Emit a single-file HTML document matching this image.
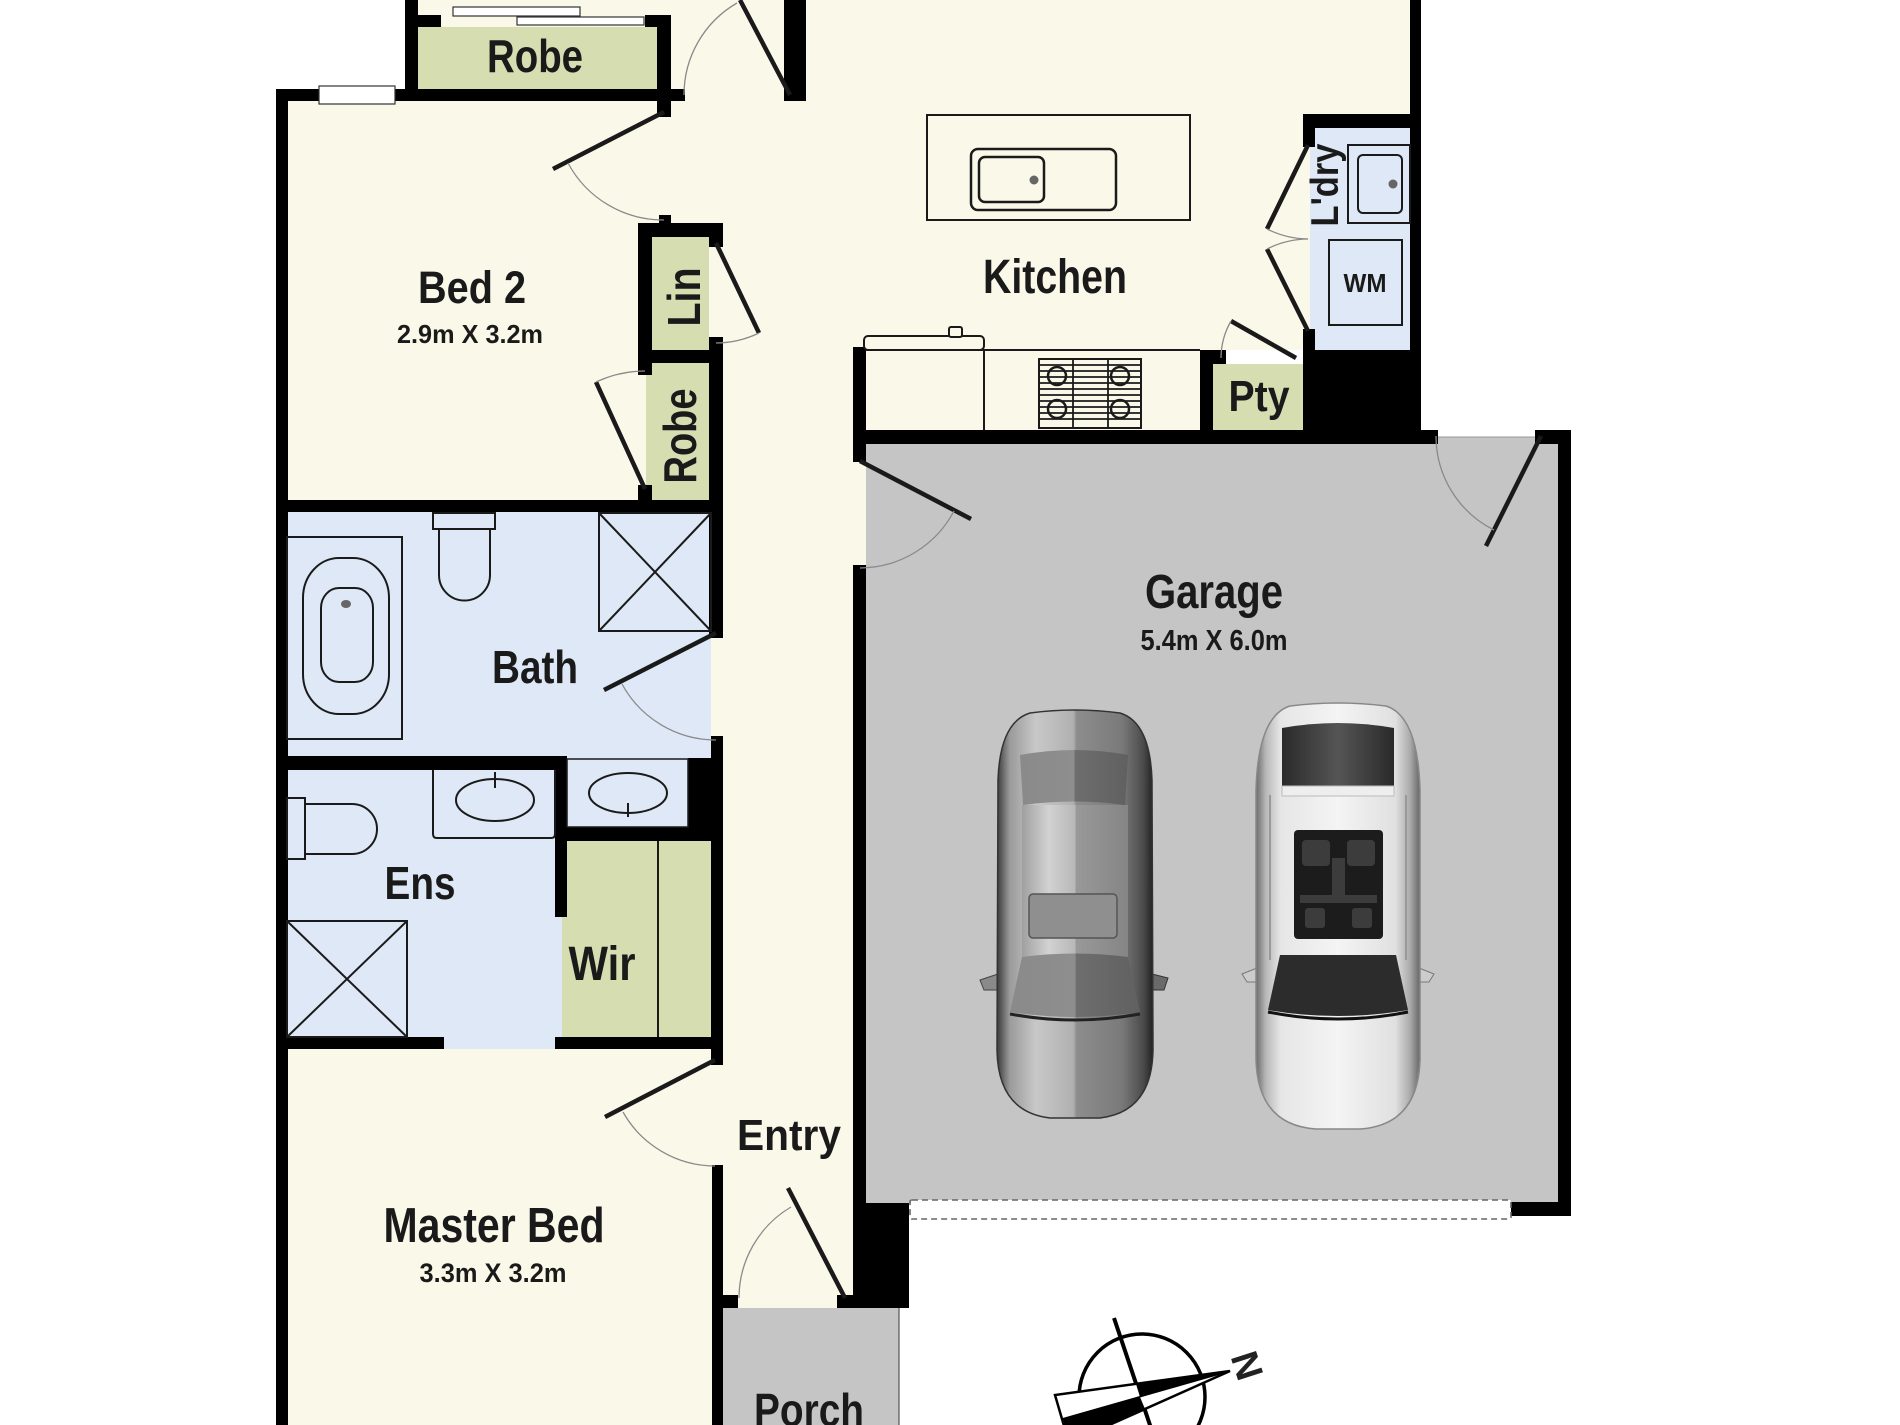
<!DOCTYPE html>
<html><head><meta charset="utf-8"><style>html,body{margin:0;padding:0;background:#fff}svg{display:block}
text{font-family:"Liberation Sans",Arial,sans-serif;font-weight:bold;fill:#1a1a1a}</style></head>
<body>
<svg width="1900" height="1425" viewBox="0 0 1900 1425" xmlns="http://www.w3.org/2000/svg">
<defs>
<linearGradient id="c1" x1="0" x2="1" y1="0" y2="0">
<stop offset="0" stop-color="#3a3a3a"/><stop offset="0.08" stop-color="#9a9a9a"/><stop offset="0.25" stop-color="#c8c8c8"/><stop offset="0.49" stop-color="#b0b0b0"/><stop offset="0.51" stop-color="#8d8d8d"/><stop offset="0.8" stop-color="#7a7a7a"/><stop offset="0.94" stop-color="#4a4a4a"/><stop offset="1" stop-color="#222"/></linearGradient>
<linearGradient id="c1r" x1="0" x2="1" y1="0" y2="0">
<stop offset="0" stop-color="#a0a0a0"/><stop offset="0.25" stop-color="#d2d2d2"/><stop offset="0.5" stop-color="#b8b8b8"/><stop offset="0.51" stop-color="#999"/><stop offset="1" stop-color="#858585"/></linearGradient>
<linearGradient id="c1g" x1="0" x2="1" y1="0" y2="0">
<stop offset="0" stop-color="#8a8a8a"/><stop offset="0.5" stop-color="#8e8e8e"/><stop offset="0.51" stop-color="#6e6e6e"/><stop offset="1" stop-color="#606060"/></linearGradient>
<linearGradient id="c2" x1="0" x2="1" y1="0" y2="0">
<stop offset="0" stop-color="#6a6a6a"/><stop offset="0.06" stop-color="#b8b8b8"/><stop offset="0.15" stop-color="#e6e6e6"/><stop offset="0.5" stop-color="#f4f4f4"/><stop offset="0.85" stop-color="#e0e0e0"/><stop offset="0.94" stop-color="#aaa"/><stop offset="1" stop-color="#666"/></linearGradient>
<linearGradient id="c2g" x1="0" x2="1" y1="0" y2="0">
<stop offset="0" stop-color="#2a2a2a"/><stop offset="0.5" stop-color="#555"/><stop offset="1" stop-color="#2a2a2a"/></linearGradient>
</defs>
<rect width="1900" height="1425" fill="#fff"/>

<!-- cream floors -->
<rect x="405" y="0" width="1016" height="350" fill="#FAF9E9"/>
<rect x="276" y="89" width="590" height="1336" fill="#FAF9E9"/>
<rect x="865" y="350" width="340" height="80" fill="#FAF9E9"/>

<!-- blue -->
<rect x="287" y="512" width="424" height="246" fill="#DEE8F6"/>
<rect x="287" y="758" width="401" height="291" fill="#DEE8F6"/>
<rect x="1310" y="128" width="100" height="222" fill="#DEE8F6"/>

<!-- green -->
<rect x="418" y="27" width="240" height="62" fill="#D5DDB1"/>
<rect x="652" y="237" width="57" height="113" fill="#D5DDB1"/>
<rect x="646" y="363" width="63" height="137" fill="#D5DDB1"/>
<rect x="1213" y="364" width="90" height="66" fill="#D5DDB1"/>
<rect x="562" y="840" width="149" height="197" fill="#D5DDB1"/>

<!-- grey -->
<rect x="866" y="444" width="692" height="759" fill="#C6C5C6"/>
<rect x="1438" y="437" width="97" height="7" fill="#C6C5C6"/>
<line x1="1438" y1="437" x2="1535" y2="437" stroke="#999" stroke-width="1"/>
<rect x="723" y="1308" width="176" height="117" fill="#C6C5C6"/>
<line x1="899" y1="1308" x2="899" y2="1425" stroke="#555" stroke-width="1.2"/>

<!-- walls -->
<g fill="#000">
<rect x="405" y="0" width="13" height="101"/>
<rect x="405" y="15" width="36" height="12"/>
<rect x="645" y="15" width="26" height="12"/>
<rect x="657" y="15" width="14" height="102"/>
<rect x="276" y="89" width="409" height="12"/>
<rect x="276" y="89" width="12" height="1336"/>
<rect x="784" y="0" width="22" height="101"/>
<rect x="659" y="215" width="12" height="10"/>
<rect x="638" y="223" width="85" height="14"/>
<rect x="638" y="223" width="14" height="152"/>
<rect x="709" y="223" width="14" height="24"/>
<rect x="638" y="350" width="85" height="13"/>
<rect x="709" y="337" width="14" height="301"/>
<rect x="638" y="485" width="14" height="27"/>
<rect x="276" y="500" width="447" height="12"/>
<rect x="711" y="736" width="12" height="329"/>
<rect x="688" y="758" width="35" height="82"/>
<rect x="287" y="756" width="280" height="14"/>
<rect x="555" y="770" width="12" height="147"/>
<rect x="555" y="827" width="168" height="14"/>
<rect x="276" y="1037" width="168" height="12"/>
<rect x="555" y="1037" width="168" height="12"/>
<rect x="712" y="1165" width="11" height="260"/>
<rect x="853" y="347" width="13" height="115"/>
<rect x="853" y="565" width="13" height="640"/>
<rect x="853" y="1203" width="56" height="105"/>
<rect x="723" y="1295" width="15" height="13"/>
<rect x="837" y="1295" width="16" height="13"/>
<rect x="1410" y="0" width="11" height="444"/>
<rect x="1303" y="114" width="118" height="14"/>
<rect x="1303" y="114" width="12" height="33"/>
<rect x="1303" y="329" width="12" height="21"/>
<rect x="1303" y="350" width="118" height="94"/>
<rect x="1200" y="350" width="13" height="80"/>
<rect x="1200" y="350" width="26" height="14"/>
<rect x="853" y="430" width="585" height="14"/>
<rect x="1535" y="430" width="36" height="14"/>
<rect x="1558" y="430" width="13" height="786"/>
<rect x="1511" y="1202" width="60" height="14"/>
</g>

<!-- window & sliding doors -->
<rect x="319" y="86" width="76" height="18" fill="#fff" stroke="#333" stroke-width="1.2"/>
<rect x="453" y="7" width="127" height="9" fill="#fff" stroke="#333" stroke-width="1.2"/>
<rect x="517" y="17" width="127" height="8" fill="#fff" stroke="#333" stroke-width="1.2"/>

<!-- garage door dashed -->
<rect x="910" y="1200" width="601" height="19" rx="2" fill="#fff" stroke="#666" stroke-width="1.6" stroke-dasharray="6 4"/>

<!-- doors -->
<g stroke="#1a1a1a" stroke-width="4.5" fill="none">
<line x1="790" y1="95" x2="740" y2="0"/>
<line x1="664" y1="112" x2="553" y2="169"/>
<line x1="716" y1="243" x2="759" y2="333"/>
<line x1="645" y1="489" x2="596" y2="382"/>
<line x1="716" y1="633" x2="604" y2="690"/>
<line x1="715" y1="1060" x2="605" y2="1117"/>
<line x1="845" y1="1298" x2="788" y2="1188"/>
<line x1="860" y1="461" x2="971" y2="519"/>
<line x1="1541" y1="436" x2="1486" y2="546"/>
<line x1="1308" y1="145" x2="1267" y2="229"/>
<line x1="1308" y1="331" x2="1267" y2="249"/>
<line x1="1296" y1="358" x2="1231" y2="321"/>
</g>
<g stroke="#8a8a8a" stroke-width="1.3" fill="none">
<path d="M684 95 A106 106 0 0 1 737 3"/>
<path d="M568 163 A108 108 0 0 0 664 220"/>
<path d="M759 333 A100 100 0 0 1 716 343"/>
<path d="M596 382 A118 118 0 0 1 645 371"/>
<path d="M622 684 A107 107 0 0 0 716 740"/>
<path d="M623 1112 A106 106 0 0 0 715 1166"/>
<path d="M791 1207 A106 106 0 0 0 739 1298"/>
<path d="M954 511 A107 107 0 0 1 860 568"/>
<path d="M1494 530 A105 105 0 0 1 1436 436"/>
<path d="M1267 229 A94 94 0 0 0 1308 239"/>
<path d="M1267 249 A92 92 0 0 1 1308 239"/>
<path d="M1231 321 A75 75 0 0 0 1221 358"/>
</g>

<!-- kitchen fixtures -->
<g stroke="#1a1a1a" fill="none" stroke-width="2">
<rect x="927" y="115" width="263" height="105"/>
<rect x="971" y="149" width="145" height="61" rx="7" stroke-width="2.5"/>
<rect x="979" y="157" width="65" height="45" rx="6" stroke-width="2.5"/>
<line x1="865" y1="350" x2="1200" y2="350"/>
<rect x="864" y="336" width="120" height="14" rx="4" fill="#FAF9E9"/>
<rect x="949" y="327" width="13" height="10" rx="2" fill="#FAF9E9"/>
<line x1="984" y1="350" x2="984" y2="430"/>
<rect x="1039" y="359" width="102" height="69"/>
</g>
<circle cx="1034" cy="180" r="4.5" fill="#666"/>
<g stroke="#1a1a1a" stroke-width="1.8">
<line x1="1039" y1="365" x2="1141" y2="365"/><line x1="1039" y1="371" x2="1141" y2="371"/><line x1="1039" y1="377" x2="1141" y2="377"/><line x1="1039" y1="383" x2="1141" y2="383"/><line x1="1039" y1="389" x2="1141" y2="389"/><line x1="1039" y1="395" x2="1141" y2="395"/><line x1="1039" y1="401" x2="1141" y2="401"/><line x1="1039" y1="407" x2="1141" y2="407"/><line x1="1039" y1="413" x2="1141" y2="413"/><line x1="1039" y1="419" x2="1141" y2="419"/>
<line x1="1073" y1="359" x2="1073" y2="428"/><line x1="1108" y1="359" x2="1108" y2="428"/>
</g>
<g stroke="#1a1a1a" stroke-width="2.5" fill="none">
<circle cx="1057" cy="376" r="9"/><circle cx="1120" cy="376" r="9"/><circle cx="1057" cy="409" r="9"/><circle cx="1120" cy="409" r="9"/>
</g>

<!-- laundry -->
<g stroke="#1a1a1a" fill="none" stroke-width="2">
<rect x="1348" y="145" width="62" height="78"/>
<rect x="1358" y="155" width="44" height="58" rx="5"/>
<rect x="1329" y="240" width="73" height="85"/>
</g>
<circle cx="1393" cy="184" r="4.5" fill="#666"/>

<!-- bath fixtures -->
<g stroke="#1a1a1a" fill="none" stroke-width="2">
<rect x="287" y="537" width="115" height="202"/>
<rect x="303" y="558" width="86" height="156" rx="36" ry="40"/>
<rect x="321" y="588" width="52" height="94" rx="18" ry="20"/>
<rect x="433" y="513" width="62" height="16"/>
<path d="M439 529 L439 575 A25.5 25.5 0 0 0 490 575 L490 529"/>
<rect x="599" y="513" width="112" height="118"/>
<line x1="599" y1="513" x2="711" y2="631"/><line x1="711" y1="513" x2="599" y2="631"/>
<path d="M433 770 L433 834 Q433 838 437 838 L551 838 Q555 838 555 834 L555 770"/>
<ellipse cx="495" cy="800" rx="39" ry="21"/>
<line x1="495" y1="772" x2="495" y2="788"/>
<rect x="567" y="759" width="121" height="68" stroke-width="1.5"/>
<ellipse cx="628" cy="793" rx="39" ry="20"/>
<line x1="628" y1="803" x2="628" y2="817"/>
<rect x="287" y="798" width="18" height="61"/>
<path d="M305 804 L352 804 A25 25 0 0 1 352 854 L305 854"/>
<rect x="287" y="921" width="120" height="116"/>
<line x1="287" y1="921" x2="407" y2="1037"/><line x1="407" y1="921" x2="287" y2="1037"/>
<line x1="658" y1="841" x2="658" y2="1037"/>
</g>
<ellipse cx="346" cy="604" rx="5" ry="4" fill="#666"/>

<!-- car 1 -->
<g>
<path d="M980 980 L998 974 L998 990 L984 990 Z" fill="#8a8a8a" stroke="#444" stroke-width="1"/>
<path d="M1168 978 L1152 974 L1152 990 L1164 990 Z" fill="#6a6a6a" stroke="#333" stroke-width="1"/>
<path d="M1030 713 Q1075 707 1120 713 Q1150 722 1152 780 L1153 1050 Q1152 1112 1100 1118 L1050 1118 Q998 1112 997 1050 L998 780 Q1000 722 1030 713 Z" fill="url(#c1)" stroke="#333" stroke-width="1.5"/>
<path d="M1020 755 Q1075 745 1128 755 L1125 805 Q1075 798 1023 805 Z" fill="url(#c1g)"/>
<rect x="1022" y="805" width="106" height="152" fill="url(#c1r)"/>
<rect x="1029" y="894" width="88" height="44" rx="4" fill="#8f8f8f" stroke="#555" stroke-width="1.5"/>
<path d="M1022 957 Q1075 950 1128 957 L1140 1012 Q1075 1022 1010 1012 Z" fill="url(#c1g)"/>
<path d="M1010 1014 Q1075 1026 1140 1014" stroke="#222" stroke-width="3" fill="none"/>
</g>

<!-- car 2 -->
<g>
<path d="M1257 968 L1242 974 L1247 982 L1258 982 Z" fill="#ccc" stroke="#777" stroke-width="1"/>
<path d="M1419 968 L1434 974 L1429 982 L1418 982 Z" fill="#ccc" stroke="#777" stroke-width="1"/>
<path d="M1290 706 Q1338 700 1386 706 Q1418 716 1420 790 L1420 1060 Q1418 1125 1360 1129 L1316 1129 Q1258 1125 1256 1060 L1256 790 Q1258 716 1290 706 Z" fill="url(#c2)" stroke="#888" stroke-width="1.5"/>
<path d="M1282 728 Q1338 718 1394 728 L1394 786 L1282 786 Z" fill="url(#c2g)"/>
<rect x="1282" y="786" width="112" height="10" fill="#eee" stroke="#bbb" stroke-width="1"/>
<line x1="1270" y1="795" x2="1270" y2="960" stroke="#999" stroke-width="2"/>
<line x1="1406" y1="795" x2="1406" y2="960" stroke="#999" stroke-width="2"/>
<rect x="1294" y="830" width="89" height="109" rx="4" fill="#1c1c1c"/>
<g fill="#3c3c3c"><rect x="1302" y="840" width="28" height="26" rx="4"/><rect x="1347" y="840" width="28" height="26" rx="4"/><rect x="1332" y="858" width="13" height="40"/><rect x="1300" y="895" width="77" height="8"/><rect x="1305" y="908" width="20" height="20" rx="3"/><rect x="1352" y="908" width="20" height="20" rx="3"/></g>
<path d="M1280 955 L1396 955 L1408 1010 Q1338 1022 1268 1010 Z" fill="#2c2c2c"/>
<path d="M1268 1012 Q1338 1026 1408 1012" stroke="#111" stroke-width="3" fill="none"/>
</g>

<!-- compass -->
<g>
<circle cx="1142" cy="1397" r="63" fill="none" stroke="#000" stroke-width="3.5"/>
<line x1="1114" y1="1318" x2="1155" y2="1440" stroke="#000" stroke-width="4"/>
<polygon points="1230,1371 1055,1395 1069,1443" fill="#fff" stroke="#000" stroke-width="2.5" stroke-linejoin="miter"/>
<polygon points="1230,1371 1136,1384 1140,1397" fill="#000"/>
<polygon points="1140,1397 1062,1419 1069,1443 1145,1409" fill="#000"/>
<line x1="1230" y1="1371" x2="1062" y2="1419" stroke="#000" stroke-width="1.5"/>
<text x="0" y="0" font-size="38" text-anchor="middle" dominant-baseline="central" transform="translate(1246,1366) rotate(72)" style="fill:#222">N</text>
</g>

<!-- labels -->
<text x="535" y="72" font-size="46" text-anchor="middle" textLength="96" lengthAdjust="spacingAndGlyphs">Robe</text>
<text x="472" y="303" font-size="45" text-anchor="middle" textLength="108" lengthAdjust="spacingAndGlyphs">Bed 2</text>
<text x="470" y="343" font-size="26" text-anchor="middle" textLength="146" lengthAdjust="spacingAndGlyphs">2.9m X 3.2m</text>
<text transform="translate(700,297) rotate(-90)" font-size="46" text-anchor="middle" textLength="59" lengthAdjust="spacingAndGlyphs">Lin</text>
<text transform="translate(696,436) rotate(-90)" font-size="46" text-anchor="middle" textLength="95" lengthAdjust="spacingAndGlyphs">Robe</text>
<text x="1055" y="293" font-size="48" text-anchor="middle" textLength="144" lengthAdjust="spacingAndGlyphs">Kitchen</text>
<text transform="translate(1338,185) rotate(-90)" font-size="39" text-anchor="middle" textLength="83" lengthAdjust="spacingAndGlyphs">L'dry</text>
<text x="1365" y="292" font-size="26" text-anchor="middle" textLength="43" lengthAdjust="spacingAndGlyphs">WM</text>
<text x="1259" y="411" font-size="44" text-anchor="middle" textLength="61" lengthAdjust="spacingAndGlyphs">Pty</text>
<text x="535" y="683" font-size="46" text-anchor="middle" textLength="86" lengthAdjust="spacingAndGlyphs">Bath</text>
<text x="420" y="899" font-size="46" text-anchor="middle" textLength="71" lengthAdjust="spacingAndGlyphs">Ens</text>
<text x="602" y="980" font-size="48" text-anchor="middle" textLength="67" lengthAdjust="spacingAndGlyphs">Wir</text>
<text x="494" y="1242" font-size="49" text-anchor="middle" textLength="221" lengthAdjust="spacingAndGlyphs">Master Bed</text>
<text x="493" y="1282" font-size="27" text-anchor="middle" textLength="147" lengthAdjust="spacingAndGlyphs">3.3m X 3.2m</text>
<text x="789" y="1150" font-size="44" text-anchor="middle" textLength="104" lengthAdjust="spacingAndGlyphs">Entry</text>
<text x="809" y="1426" font-size="46" text-anchor="middle" textLength="110" lengthAdjust="spacingAndGlyphs">Porch</text>
<text x="1214" y="608" font-size="48" text-anchor="middle" textLength="138" lengthAdjust="spacingAndGlyphs">Garage</text>
<text x="1214" y="650" font-size="29" text-anchor="middle" textLength="147" lengthAdjust="spacingAndGlyphs">5.4m X 6.0m</text>
</svg>
</body></html>
